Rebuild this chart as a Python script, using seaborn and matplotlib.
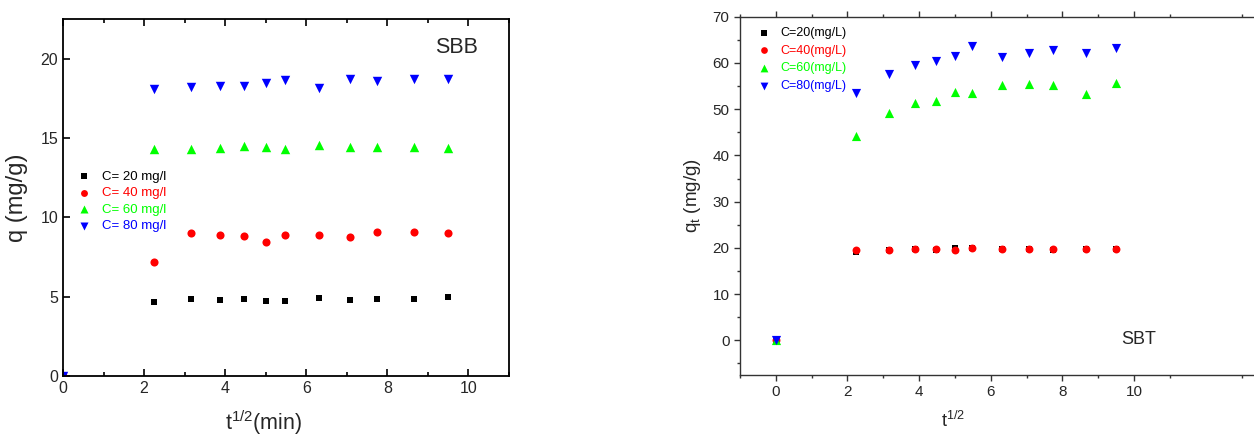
import numpy as np
import pandas as pd
import seaborn as sns
import matplotlib.pyplot as plt

# time points (min) -> sqrt(t)
t_min = [0, 5, 10, 15, 20, 25, 30, 40, 50, 60, 75, 90]
sqrt_t = np.sqrt(t_min)

# SBB (left)
sbb_c20 = [0, 4.65, 4.85, 4.80, 4.85, 4.75, 4.75, 4.90, 4.80, 4.85, 4.85, 4.95]
sbb_c40 = [0, 7.20, 9.00, 8.90, 8.80, 8.45, 8.90, 8.90, 8.75, 9.10, 9.10, 9.00]
sbb_c60 = [0, 14.30, 14.30, 14.35, 14.50, 14.45, 14.30, 14.55, 14.45, 14.45, 14.45, 14.35]
sbb_c80 = [0, 18.10, 18.20, 18.30, 18.30, 18.45, 18.65, 18.15, 18.75, 18.60, 18.75, 18.75]

# SBT (right)
sbt_c20 = [0, 19.0, 19.5, 19.8, 19.6, 20.0, 20.0, 19.8, 19.8, 19.6, 19.8, 19.8]
sbt_c40 = [0, 19.5, 19.5, 19.8, 19.8, 19.6, 19.9, 19.7, 19.8, 19.8, 19.8, 19.7]
sbt_c60 = [0, 44.3, 49.2, 51.3, 51.7, 53.8, 53.6, 55.2, 55.5, 55.2, 53.2, 55.6]
sbt_c80 = [0, 53.4, 57.7, 59.5, 60.5, 61.4, 63.6, 61.3, 62.2, 62.9, 62.2, 63.2]

sbb_labels = ['C= 20 mg/l', 'C= 40 mg/l', 'C= 60 mg/l', 'C= 80 mg/l']
sbt_labels = ['C=20(mg/L)', 'C=40(mg/L)', 'C=60(mg/L)', 'C=80(mg/L)']
colors = ['#000000', '#ff0000', '#00ff00', '#0000ff']
markers = ['s', 'o', '^', 'v']
sizes = {'s': 24, 'o': 34, '^': 46, 'v': 46}

sns.set_style('ticks')
plt.rcParams['font.family'] = ['Liberation Sans', 'DejaVu Sans']
plt.rcParams['mathtext.fontset'] = 'custom'
plt.rcParams['mathtext.rm'] = 'Liberation Sans'

W, H = 1254, 437
fig = plt.figure(figsize=(W / 100, H / 100), dpi=100)


def box(l, r, t, b):
    return [l / W, 1 - b / H, (r - l) / W, (b - t) / H]


# ---------- left panel ----------
ax1 = fig.add_axes(box(63, 509, 19, 376))
for ys, lab, c, m in zip([sbb_c20, sbb_c40, sbb_c60, sbb_c80], sbb_labels, colors, markers):
    sns.scatterplot(x=sqrt_t, y=ys, ax=ax1, color=c, marker=m, s=sizes[m],
                    linewidth=0, label=lab)
ax1.set_xlim(0, 11)
ax1.set_ylim(0, 22.5)
ax1.set_xticks([0, 2, 4, 6, 8, 10])
ax1.set_xticks([1, 3, 5, 7, 9, 11], minor=True)
ax1.set_yticks([0, 5, 10, 15, 20])
ax1.tick_params(axis='both', which='both', direction='in', top=True, right=False, labelsize=11.5,
                width=1.2, color='#000000')
ax1.tick_params(which='major', length=5)
ax1.tick_params(which='minor', length=3)
for sp in ax1.spines.values():
    sp.set_linewidth(1.3)
    sp.set_color('black')
ax1.set_xlabel(r'$\mathregular{t^{1/2}}$(min)', fontsize=15.5)
ax1.xaxis.set_label_coords(0.45, -0.09)
ax1.set_ylabel('q (mg/g)', fontsize=17)
ax1.yaxis.set_label_coords(-0.078, 0.5)
ax1.text(0.93, 0.92, 'SBB', transform=ax1.transAxes, fontsize=15.5, ha='right', va='center')
leg1 = ax1.legend(loc='upper left', bbox_to_anchor=(0.02, 0.59), frameon=False,
                  handlelength=1.0, handletextpad=0.9, labelspacing=0.32, borderaxespad=0,
                  markerscale=0.85, prop={'size': 9.5})
for txt, c in zip(leg1.get_texts(), colors):
    txt.set_color(c)

# ---------- right panel ----------
ax2 = fig.add_axes(box(740, 1254, 16.7, 375))
for ys, lab, c, m in zip([sbt_c20, sbt_c40, sbt_c60, sbt_c80], sbt_labels, colors, markers):
    sns.scatterplot(x=sqrt_t, y=ys, ax=ax2, color=c, marker=m, s=sizes[m] * 0.95,
                    linewidth=0, label=lab)
x_right = -1 + (1254 - 740) / ((1134 - 775.7) / 10)
ax2.set_xlim(-1, x_right)
ax2.set_ylim(-7.5, 70)
ax2.set_xticks([0, 2, 4, 6, 8, 10])
ax2.set_xticks([-1, 1, 3, 5, 7, 9, 11, 13], minor=True)
ax2.set_yticks(np.arange(0, 71, 10))
ax2.set_yticks(np.arange(-5, 70, 10), minor=True)
ax2.tick_params(axis='both', which='both', direction='out', top=True, right=False, labelsize=11,
                width=1.0, color='#333333')
ax2.tick_params(which='major', length=4)
ax2.tick_params(which='minor', length=2.5)
ax2.spines['right'].set_visible(False)
for k in ['left', 'bottom', 'top']:
    ax2.spines[k].set_linewidth(1.0)
    ax2.spines[k].set_color('#333333')
ax2.set_xlabel(r'$\mathregular{t^{1/2}}$', fontsize=13)
ax2.xaxis.set_label_coords((953 - 740) / (1254 - 740), -0.1)
ax2.set_ylabel(r'$\mathregular{q_t}$ (mg/g)', fontsize=13.5)
ax2.yaxis.set_label_coords(-0.072, 0.5)
ax2.text(0.775, 0.1, 'SBT', transform=ax2.transAxes, fontsize=13, ha='center', va='center')
leg2 = ax2.legend(loc='upper left', bbox_to_anchor=(0.025, 0.985), frameon=False,
                  handlelength=1.0, handletextpad=0.8, labelspacing=0.45, borderaxespad=0,
                  markerscale=0.85, prop={'size': 9})
for txt, c in zip(leg2.get_texts(), colors):
    txt.set_color(c)

fig.savefig('out.png', dpi=100)
